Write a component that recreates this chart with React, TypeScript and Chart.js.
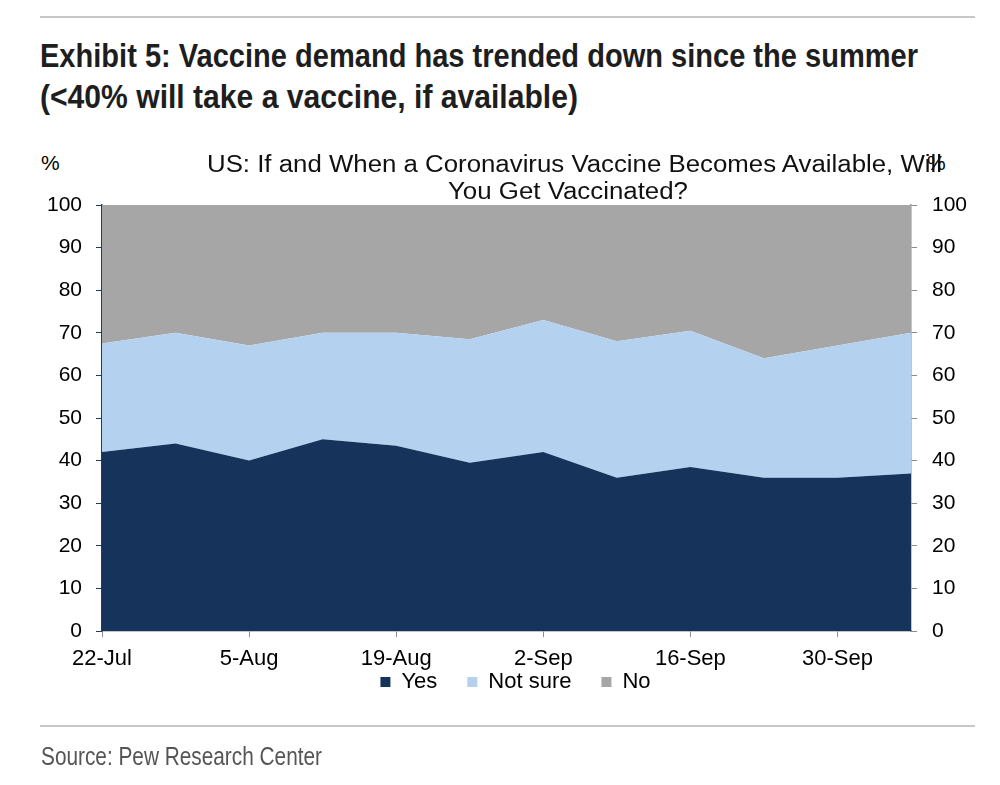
import React, { useEffect, useLayoutEffect, useRef } from "react";
import { Chart, registerables } from "chart.js";

Chart.register(...registerables);

const weeks = ["22-Jul", "29-Jul", "5-Aug", "12-Aug", "19-Aug", "26-Aug", "2-Sep", "9-Sep", "16-Sep", "23-Sep", "30-Sep", "7-Oct"];
const yesValues = [42, 44, 40, 45, 43.5, 39.5, 42, 36, 38.5, 36, 36, 37];
const notSureValues = [25.5, 26, 27, 25, 26.5, 29, 31, 32, 32, 28, 31, 33];
const noValues = [32.5, 30, 33, 30, 30, 31.5, 27, 32, 29.5, 36, 33, 30];
const yTicks = [0, 10, 20, 30, 40, 50, 60, 70, 80, 90, 100];

const TICK_FONT = "'Liberation Sans', Arial, sans-serif";

const legendShift = {
  id: "legendShift",
  afterLayout(chart: any) {
    const l = chart.legend;
    if (!l) return;
    l.top -= 30;
    l.bottom -= 30;
    l.left += 25;
    l.right += 25;
  },
};

type FitProps = {
  left: number;
  top: number;
  width: number;
  style: React.CSSProperties;
  children: React.ReactNode;
};

function FitText({ left, top, width, style, children }: FitProps) {
  const ref = useRef<HTMLSpanElement | null>(null);
  useLayoutEffect(() => {
    const el = ref.current;
    if (!el) return;
    const fit = () => {
      el.style.transform = "none";
      const w = el.getBoundingClientRect().width;
      if (w > 0) el.style.transform = `scaleX(${width / w})`;
    };
    fit();
    (document as any).fonts?.ready?.then(fit);
  }, [width]);
  return (
    <span
      ref={ref}
      style={{
        position: "absolute",
        left,
        top,
        whiteSpace: "nowrap",
        display: "inline-block",
        transformOrigin: "0 0",
        ...style,
      }}
    >
      {children}
    </span>
  );
}

export default function App() {
  const canvasRef = useRef<HTMLCanvasElement | null>(null);

  useEffect(() => {
    const canvas = canvasRef.current;
    if (!canvas) return;
    const chart = new Chart(canvas, {
      type: "line",
      data: {
        labels: weeks,
        datasets: [
          {
            label: "Yes",
            data: yesValues,
            backgroundColor: "#15335b",
            borderColor: "#15335b",
            borderWidth: 0,
            pointRadius: 0,
            fill: "origin",
            tension: 0,
          },
          {
            label: "Not sure",
            data: notSureValues,
            backgroundColor: "#b4d2ef",
            borderColor: "#b4d2ef",
            borderWidth: 0,
            pointRadius: 0,
            fill: "-1",
            tension: 0,
          },
          {
            label: "No",
            data: noValues,
            backgroundColor: "#a6a6a6",
            borderColor: "#a6a6a6",
            borderWidth: 0,
            pointRadius: 0,
            fill: "-1",
            tension: 0,
          },
        ],
      },
      plugins: [legendShift],
      options: {
        animation: false,
        responsive: true,
        maintainAspectRatio: false,
        devicePixelRatio: 1,
        layout: { padding: { left: 0, right: 19, top: 55, bottom: 17 } },
        plugins: {
          legend: {
            position: "bottom",
            labels: {
              boxWidth: 10,
              boxHeight: 10,
              padding: 30,
              color: "#000",
              font: { family: TICK_FONT, size: 22 },
            },
          },
          tooltip: { enabled: false },
          title: { display: false },
        },
        scales: {
          x: {
            offset: false,
            afterFit: (s: any) => {
              s.height = 40;
            },
            grid: {
              drawOnChartArea: false,
              drawTicks: true,
              tickLength: 6,
              color: (ctx: any) => (ctx.index % 2 === 0 ? "#8c8c8c" : "rgba(0,0,0,0)"),
            },
            border: { color: "#8c8c8c", width: 1.5 },
            ticks: {
              autoSkip: false,
              maxRotation: 0,
              padding: 9,
              color: "#000",
              font: { family: TICK_FONT, size: 22 },
              callback: (_v: any, i: number) => (i % 2 === 0 ? weeks[i] : ""),
            },
          },
          y: {
            position: "left",
            stacked: true,
            min: 0,
            max: 100,
            afterFit: (s: any) => {
              s.width = 102;
            },
            afterBuildTicks: (s: any) => {
              s.ticks = yTicks.map((v) => ({ value: v }));
            },
            grid: { drawOnChartArea: false, drawTicks: true, tickLength: 6, color: "#23395d" },
            border: { color: "#23395d", width: 1.5 },
            ticks: {
              padding: 14,
              color: "#000",
              font: { family: TICK_FONT, size: 21 },
            },
          },
          y2: {
            position: "right",
            min: 0,
            max: 100,
            afterFit: (s: any) => {
              s.width = 70;
            },
            afterBuildTicks: (s: any) => {
              s.ticks = yTicks.map((v) => ({ value: v }));
            },
            grid: { drawOnChartArea: false, drawTicks: true, tickLength: 6, color: "#8c8c8c" },
            border: { color: "#8c8c8c", width: 1.5 },
            ticks: {
              padding: 15,
              color: "#000",
              font: { family: TICK_FONT, size: 21 },
            },
          },
        },
      },
    });
    return () => chart.destroy();
  }, []);

  const titleStyle: React.CSSProperties = {
    fontFamily: TICK_FONT,
    fontWeight: "bold",
    fontSize: 33,
    lineHeight: "39px",
    color: "#1e1e1e",
  };
  const chartTitleStyle: React.CSSProperties = {
    fontFamily: TICK_FONT,
    fontSize: 23,
    lineHeight: "27px",
    color: "#111",
  };

  return (
    <div style={{ position: "absolute", left: 0, top: 0, width: 1000, height: 785, background: "#fff", overflow: "hidden" }}>
      <div style={{ position: "absolute", left: 40, top: 16, width: 935, height: 2, background: "#c8c8c8" }} />
      <FitText left={40} top={36} width={878} style={titleStyle}>
        Exhibit 5: Vaccine demand has trended down since the summer
      </FitText>
      <FitText left={40} top={77} width={538} style={titleStyle}>
        (&lt;40% will take a vaccine, if available)
      </FitText>
      <div style={{ position: "absolute", left: 41, top: 151, fontFamily: TICK_FONT, fontSize: 21, color: "#000" }}>%</div>
      <div style={{ position: "absolute", left: 927, top: 151, fontFamily: TICK_FONT, fontSize: 21, color: "#000" }}>%</div>
      <div style={{ position: "absolute", left: 0, top: 150, width: 1000, height: 600 }}>
        <canvas ref={canvasRef} />
      </div>
      <FitText left={207} top={151} width={735} style={chartTitleStyle}>
        US: If and When a Coronavirus Vaccine Becomes Available, Will
      </FitText>
      <FitText left={448} top={178} width={240} style={chartTitleStyle}>
        You Get Vaccinated?
      </FitText>
      <div style={{ position: "absolute", left: 40, top: 725, width: 935, height: 2, background: "#c8c8c8" }} />
      <FitText left={41} top={741} width={281} style={{ fontFamily: TICK_FONT, fontSize: 25, lineHeight: "30px", color: "#555" }}>
        Source: Pew Research Center
      </FitText>
    </div>
  );
}
